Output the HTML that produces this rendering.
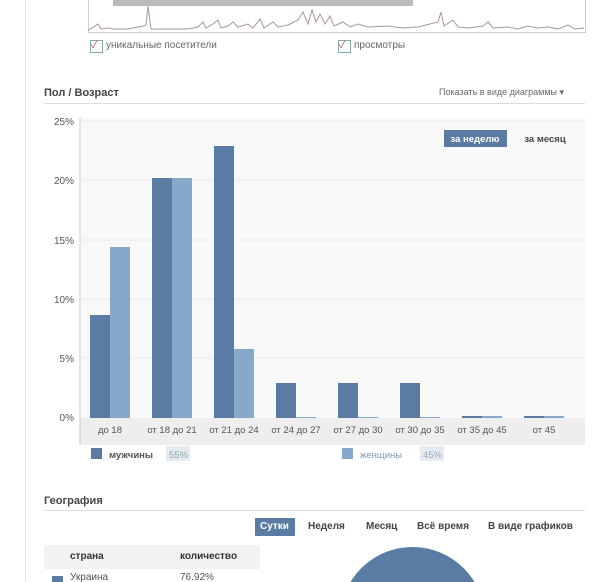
<!DOCTYPE html>
<html style="width:600px;height:582px;overflow:hidden"><head><meta charset="utf-8"><style>
body{margin:0;width:600px;height:582px;background:#fff;position:relative;overflow:hidden;font-family:"Liberation Sans","Noto Sans CJK SC",sans-serif;color:#333}
.a{position:absolute}
</style></head><body>
<div class="a" style="left:25px;top:0;width:1px;height:582px;background:#e4e4e4"></div>
<div class="a" style="left:88px;top:0;width:496px;height:32px;border:1px solid #ccc;border-top:none;background:#fff"></div>
<svg class="a" style="left:88px;top:0" width="497" height="33">
<polyline fill="none" stroke="#a994a6" stroke-width="1" points="0,30 6,27 10,24 13,29 20,28 25,29 40,29 55,26 58,25 60,6 63,29 100,29 110,27 115,22 118,28 125,24 130,20 133,28 140,26 145,22 150,27 160,24 165,28 172,19 176,28 185,22 190,27 200,25 210,20 215,12 220,24 224,10 228,22 232,14 237,24 242,16 246,26 255,22 262,27 270,24 280,27 300,26 315,28 330,27 350,22 353,12 356,26 365,20 370,27 380,28 395,26 400,22 405,28 420,27 430,29 440,26 450,28 460,27 470,29 480,25 487,29 496,28"/>
<rect x="25" y="0" width="300" height="6" fill="#777" opacity=".5"/>
</svg>
<div class="a" style="left:90px;top:40px;width:11px;height:11px;border:1px solid #8aa;font-size:10px;line-height:10px;color:#c55">✓</div>
<div class="a" style="left:106px;top:40px;font-size:10px;color:#666">уникальные посетители</div>
<div class="a" style="left:338px;top:40px;width:11px;height:11px;border:1px solid #8aa;font-size:10px;line-height:10px;color:#c55">✓</div>
<div class="a" style="left:354px;top:40px;font-size:10px;color:#666">просмотры</div>
<div class="a" style="left:44px;top:87px;font-size:11px;font-weight:bold;color:#444">Пол / Возраст</div>
<div class="a" style="left:439px;top:87px;font-size:9px;color:#666">Показать в виде диаграммы ▾</div>
<div class="a" style="left:44px;top:103px;width:541px;height:1px;background:#ddd"></div>
<svg class="a" style="left:0;top:110px" width="600" height="370">
<rect x="80" y="8" width="505" height="300" fill="#f9f9f9"/>
<rect x="80" y="308" width="505" height="27" fill="#eeeeee"/>
<line x1="80" y1="8" x2="80" y2="335" stroke="#ccc"/>
<g stroke="#ececec"><line x1="80" x2="585" y1="11" y2="11"/><line x1="80" x2="585" y1="70" y2="70"/><line x1="80" x2="585" y1="130" y2="130"/><line x1="80" x2="585" y1="189" y2="189"/><line x1="80" x2="585" y1="248" y2="248"/></g>
<g font-size="10" fill="#555" text-anchor="end"><text x="74" y="15">25%</text><text x="74" y="74">20%</text><text x="74" y="134">15%</text><text x="74" y="193">10%</text><text x="74" y="252">5%</text><text x="74" y="311">0%</text></g>
<g fill="#5a7ba3">
<rect x="90" y="205" width="20" height="103"/><rect x="152" y="68" width="20" height="240"/><rect x="214" y="36" width="20" height="272"/><rect x="276" y="273" width="20" height="35"/><rect x="338" y="273" width="20" height="35"/><rect x="400" y="273" width="20" height="35"/><rect x="462" y="306" width="20" height="2"/><rect x="524" y="306" width="20" height="2"/></g>
<g fill="#86a9c9">
<rect x="110" y="137" width="20" height="171"/><rect x="172" y="68" width="20" height="240"/><rect x="234" y="239" width="20" height="69"/><rect x="296" y="307" width="20" height="1"/><rect x="358" y="307" width="20" height="1"/><rect x="420" y="307" width="20" height="1"/><rect x="482" y="306" width="20" height="2"/><rect x="544" y="306" width="20" height="2"/></g>
<g font-size="9.5" fill="#555" text-anchor="middle"><text x="110" y="323">до 18</text><text x="172" y="323">от 18 до 21</text><text x="234" y="323">от 21 до 24</text><text x="296" y="323">от 24 до 27</text><text x="358" y="323">от 27 до 30</text><text x="420" y="323">от 30 до 35</text><text x="482" y="323">от 35 до 45</text><text x="544" y="323">от 45</text></g>
<rect x="444" y="20" width="63" height="17" fill="#5a7ba3"/>
<text x="475" y="32" font-size="9.5" font-weight="bold" fill="#fff" text-anchor="middle">за неделю</text>
<text x="545" y="32" font-size="9.5" font-weight="bold" fill="#444" text-anchor="middle">за месяц</text>
<rect x="91" y="338" width="11" height="11" fill="#5a7ba3"/>
<text x="109" y="348" font-size="9.5" font-weight="bold" fill="#555">мужчины</text>
<rect x="166" y="336" width="24" height="15" fill="#e5ebf1"/><text x="169" y="348" font-size="9.5" fill="#8aa">55%</text>
<rect x="342" y="338" width="11" height="11" fill="#86a9c9"/>
<text x="360" y="348" font-size="9.5" fill="#7a9ab8">женщины</text>
<rect x="420" y="336" width="24" height="15" fill="#e5ebf1"/><text x="423" y="348" font-size="9.5" fill="#9ab">45%</text>
</svg>
<div class="a" style="left:44px;top:495px;font-size:11px;font-weight:bold;color:#444">География</div>
<div class="a" style="left:44px;top:510px;width:541px;height:1px;background:#ddd"></div>
<div class="a" style="left:255px;top:518px;width:40px;height:18px;background:#5a7ba3"></div>
<div class="a" style="left:260px;top:521px;font-size:10px;font-weight:bold;color:#fff">Сутки</div>
<div class="a" style="left:308px;top:521px;font-size:10px;font-weight:bold;color:#444">Неделя</div>
<div class="a" style="left:366px;top:521px;font-size:10px;font-weight:bold;color:#444">Месяц</div>
<div class="a" style="left:417px;top:521px;font-size:10px;font-weight:bold;color:#444">Всё время</div>
<div class="a" style="left:488px;top:521px;font-size:10px;font-weight:bold;color:#444">В виде графиков</div>
<div class="a" style="left:44px;top:545px;width:216px;height:24px;background:#f2f2f2"></div>
<div class="a" style="left:70px;top:551px;font-size:10px;font-weight:bold;color:#333">страна</div>
<div class="a" style="left:180px;top:551px;font-size:10px;font-weight:bold;color:#333">количество</div>
<div class="a" style="left:52px;top:576px;width:11px;height:6px;overflow:hidden"><div style="width:11px;height:11px;background:#5a7ba3"></div></div>
<div class="a" style="left:70px;top:573px;font-size:10px;line-height:9px;height:9px;overflow:hidden;color:#555">Украина</div>
<div class="a" style="left:180px;top:573px;font-size:10px;line-height:9px;height:9px;overflow:hidden;color:#555">76.92%</div>
<div class="a" style="left:340px;top:547px;width:145px;height:35px;overflow:hidden"><div style="width:145px;height:145px;border-radius:50%;background:#5a7ba3"></div></div>
</body></html>
